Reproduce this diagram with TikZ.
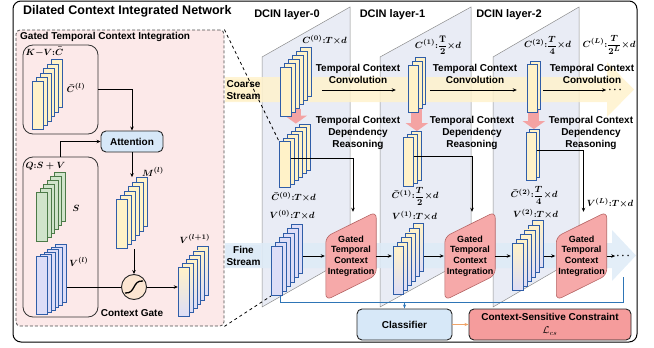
\documentclass[tikz,border=0pt]{standalone}
\usepackage{amsmath}
\usepackage{fontspec}
\setsansfont{Liberation Sans}
\usetikzlibrary{arrows.meta, positioning, calc, fit, backgrounds}

\definecolor{panelfill}{HTML}{E9ECF5}
\definecolor{coarsefill}{HTML}{FFF2CC}
\definecolor{finefill}{HTML}{DEEBF7}
\definecolor{cardyel}{HTML}{FFF2C8}
\definecolor{cardlav}{HTML}{DDDDF7}
\definecolor{cardgrn}{HTML}{D0E4CB}
\definecolor{cardedge}{HTML}{2F5DA8}
\definecolor{grnedge}{HTML}{4C7A48}
\definecolor{gtcifill}{HTML}{F6A9A9}
\definecolor{gtciedge}{HTML}{B56565}
\definecolor{detailfill}{HTML}{FCE9E9}
\definecolor{boxblue}{HTML}{D7E8F8}
\definecolor{gatefill}{HTML}{FCE6D2}
\definecolor{cscfill}{HTML}{F59C9C}
\definecolor{busblue}{HTML}{2E75B6}
\definecolor{pinkarrow}{HTML}{F4A3A3}
\definecolor{orangearr}{HTML}{F0A468}

\tikzset{
  card/.style={draw=cardedge, line width=0.7pt, inner sep=0pt},
  yel/.style={fill=cardyel},
  lav/.style={fill=cardlav},
  grn/.style={fill=cardgrn, draw=grnedge},
  mix/.style={top color=cardyel, bottom color=cardlav},
  lbl/.style={font=\sffamily\bfseries\fontsize{10}{12}\selectfont, align=center, inner sep=1pt},
  mlbl/.style={font=\fontsize{9.5}{11}\selectfont, inner sep=0.5pt},
  gtci/.style={lbl, font=\sffamily\bfseries\fontsize{9}{10.7}\selectfont, minimum width=50pt, minimum height=88pt},
  gtcishape/.style={fill=gtcifill, draw=gtciedge, line width=0.6pt, rounded corners=6pt},
  grp/.style={draw=black!80, line width=0.8pt, rounded corners=10pt, inner sep=0pt},
  blk/.style={lbl, draw=black!85, line width=0.9pt, rounded corners=5pt},
  panel/.style={fill=panelfill, draw=black!45, line width=0.5pt},
  arr/.style={-{Stealth[length=4pt, width=3.5pt]}, line width=0.7pt},
}

% name, front card corner, count, dx, dy, width, height, colour
\newcommand{\cardstack}[8]{%
  \foreach \k in {#3,...,1}
    \node[card, #8, minimum width=#6pt, minimum height=#7pt, anchor=south west]
      (#1-\k) at ($(#2)+({(\k-1)*#4},{-(\k-1)*#5})$) {};
  \node[fit=(#1-1)(#1-#3), inner sep=0pt] (#1) {};
}
% compact size label
\newcommand{\dimlbl}[2]{$\boldsymbol{#1{:}#2{\times}d}$}

\begin{document}
\begin{tikzpicture}[x=1pt, y=-1pt]
    \useasboundingbox (0,0) rectangle (654,348);

    \draw[line width=1pt, rounded corners=8pt] (13,1) rectangle (637,342);
    \node[lbl, font=\sffamily\bfseries\fontsize{12.5}{14}\selectfont, anchor=west] (title) at (22,11)
        {Dilated Context Integrated Network};

    % zoomed gated integration
    \node[draw=black!70, dash pattern=on 3pt off 2pt, line width=0.8pt, fill=detailfill,
          rounded corners=4pt, minimum width=208pt, minimum height=296pt] (detail) at (120,178) {};
    \node[lbl, anchor=west] (detailtitle) at (19,37) {Gated Temporal Context Integration};
    \node[grp, minimum width=75pt, minimum height=89pt] (kvbox) at (60.5,89.5) {};
    \node[grp, minimum width=75pt, minimum height=160pt] (qbox) at (60.5,237) {};
    \node[mlbl, anchor=west] (kvlbl) at (25,52) {$\boldsymbol{K{-}V{:}\bar{C}}$};
    \node[mlbl, anchor=west] (qlbl) at (25,166) {$\boldsymbol{Q{:}S+V}$};

    \cardstack{kv}{32,130}{6}{3.8}{4.4}{11}{48}{yel}
    \cardstack{s}{36,242}{6}{3.6}{4}{11}{49}{grn}
    \cardstack{vl}{36,315}{6}{3.8}{2.4}{11}{58}{lav}
    \cardstack{m}{116,249}{6}{4}{4.4}{11}{49}{yel}
    \cardstack{vn}{178,317}{6}{3.8}{4.2}{11}{49}{mix}

    \node[mlbl] (lkv) at (76,88) {$\boldsymbol{\bar{C}^{(l)}}$};
    \node[mlbl] (ls) at (76,208) {$\boldsymbol{S}$};
    \node[mlbl] (lvl) at (79,262) {$\boldsymbol{V^{(l)}}$};
    \node[mlbl] (lm) at (153,172) {$\boldsymbol{M^{(l)}}$};
    \node[mlbl] (lvn) at (195,239) {$\boldsymbol{V^{(l+1)}}$};

    \node[blk, fill=boxblue, minimum width=62pt, minimum height=21pt] (att) at (132,141.5) {Attention};
    \node[circle, draw=black!85, line width=0.9pt, fill=gatefill, minimum size=25pt, inner sep=0pt] (gate) at (134,287) {};
    \draw[line width=1.3pt] ([shift={(-9pt,-6pt)}]gate.center)
        .. controls ([shift={(2pt,-7pt)}]gate.center) and ([shift={(-2pt,7pt)}]gate.center)
        .. ([shift={(9pt,6pt)}]gate.center);
    \node[lbl] (gatelbl) at (132,313) {Context Gate};

    \draw[arr] (kvbox) -| (att);
    \draw[arr] (qbox) |- (att);
    \draw[arr] (att) -- (att |- m.north);
    \draw[arr] (m.south -| gate) -- (gate);
    \draw[line width=0.7pt] (vl.east |- gate) -- (gate);
    \draw[arr] (gate) -- (vn.west |- gate);

    % the layers
    \cardstack{c0}{280,117}{6}{4}{4}{11}{49}{yel}
    \cardstack{c1}{408,113}{3}{3.5}{4}{10}{47}{yel}
    \cardstack{c2}{527,113}{2}{3}{3}{10}{48}{yel}
    \cardstack{cb0}{279,188}{6}{4}{3.5}{11}{46}{yel}
    \cardstack{cb1}{403,187}{3}{4}{3}{10}{49}{yel}
    \cardstack{cb2}{526,181}{2}{3}{3}{10}{48}{yel}
    \cardstack{v0}{271,296}{6}{4}{4.5}{11}{49}{lav}
    \cardstack{v1}{393,295}{6}{4}{4.6}{10}{48}{mix}
    \cardstack{v2}{512,291}{6}{4}{4.6}{11}{47}{mix}

    \foreach \i/\x in {0/351,1/470,2/581.5}
      \node[gtci] (g\i) at (\x,256) {Gated\\Temporal\\Context\\Integration};

    \foreach \i/\x in {0/287,1/392.5,2/509}
      \node[lbl, font=\sffamily\bfseries\fontsize{11}{13}\selectfont] (layer\i) at (\x,15) {DCIN layer-\i};
    \foreach \n/\x in {0/358,1/475,2/592}
      \node[lbl] (conv\n) at (\x,74) {Temporal Context\\Convolution};
    \foreach \n/\x in {0/358,1/472,2/591}
      \node[lbl] (tcdr\n) at (\x,133) {Temporal Context\\Dependency\\Reasoning};

    \node[mlbl] (lc0) at (324.5,40) {\dimlbl{C^{(0)}}{T}};
    \node[mlbl] (lc1) at (438,45) {\dimlbl{C^{(1)}}{\dfrac{\mathrm{T}}{2}}};
    \node[mlbl] (lc2) at (547.5,45) {\dimlbl{C^{(2)}}{\dfrac{T}{4}}};
    \node[mlbl] (lcL) at (609,45) {\dimlbl{C^{(L)}}{\dfrac{T}{2^L}}};
    \node[mlbl] (lcb0) at (293.5,197) {\dimlbl{\bar{C}^{(0)}}{T}};
    \node[mlbl] (lcb1) at (415,196) {\dimlbl{\bar{C}^{(1)}}{\dfrac{T}{2}}};
    \node[mlbl] (lcb2) at (534,195) {\dimlbl{\bar{C}^{(2)}}{\dfrac{T}{4}}};
    \node[mlbl] (lv0) at (292,215) {\dimlbl{V^{(0)}}{T}};
    \node[mlbl] (lv1) at (414.5,216) {\dimlbl{V^{(1)}}{T}};
    \node[mlbl] (lv2) at (535.5,214) {\dimlbl{V^{(2)}}{T}};
    \node[mlbl] (lvL) at (610,203) {\dimlbl{V^{(L)}}{T}};

    \node[lbl, fill=coarsefill] (coarselbl) at (243.5,90) {Coarse\\Stream};
    \node[lbl, fill=finefill] (finelbl) at (243.5,256) {Fine\\Stream};
    \node[inner sep=0pt] (cdots) at (616,90) {$\boldsymbol{\cdots}$};
    \node[inner sep=0pt] (fdots) at (624,256) {$\boldsymbol{\cdots}$};

    \coordinate (coarse) at (0,90);
    \coordinate (fine) at (0,256);
    \foreach \a/\b/\s/\t in {c0/c1/10pt/12pt, c1/c2/4pt/10pt, c2/cdots/2pt/2pt}
      \draw[arr, shorten <=\s, shorten >=\t] (\a.east |- coarse) -- (\b.west |- coarse);
    \foreach \a/\b in {v0/g0, g0/v1, v1/g1, g1/v2, v2/g2, g2/fdots}
      \draw[arr, shorten >=1pt] (\a.east |- fine) -- (\b.west |- fine);
    \foreach \i in {0,1,2}
      \draw[arr] ([yshift=6pt]cb\i-1.east) -| ([xshift=2pt]g\i.north);

    \node[blk, fill=boxblue, minimum width=95pt, minimum height=31pt] (cls) at (404.5,324.5) {Classifier};
    \node[blk, fill=cscfill, minimum width=162pt, minimum height=31pt] (csc) at (550,324.5)
        {Context-Sensitive Constraint\\[1pt]$\mathcal{L}_{cs}$};
    \draw[orangearr, line width=0.8pt, -{Stealth[length=4pt]}] (cls) -- (csc);

    \coordinate (bus) at (0,302);
    \coordinate (busend) at (623,277);
    \draw[busblue, line width=0.9pt] ([xshift=-6pt]v0.south) -- ([xshift=-6pt]v0.south |- bus) -| (busend);
    \draw[busblue, line width=0.9pt, -{Stealth[length=4pt]}] (cls.north |- bus) -- (cls);

    \draw[dashed, line width=0.8pt] (detail.north east) -- (cb0-1.north west);
    \draw[dashed, line width=0.8pt] (detail.south east) -- (v0-1.south west);

    \begin{scope}[on background layer]
      \foreach \l/\r in {262/350, 380/471, 493/579}
        \draw[panel] (\l,57) -- (\r,7) -- (\r,257) -- (\l,307) -- cycle;
      \fill[coarsefill, opacity=0.85] (225,77) -- (607,77) -- (607,62) -- (634,89.5)
          -- (607,117) -- (607,102) -- (225,102) -- cycle;
      \fill[finefill, opacity=0.85] (225,243) -- (612,243) -- (612,230) -- (636,255.5)
          -- (612,281) -- (612,268) -- (225,268) -- cycle;
      \foreach \i in {0,1,2}
        \draw[pinkarrow, line width=11pt, -{Triangle[length=8pt, width=22pt]}]
          ([yshift=8pt]c\i.south) -- (c\i.south |- cb\i.north);
      \foreach \i in {0,1,2}
        \draw[gtcishape] ([yshift=-25pt]g\i.north west) -- (g\i.north east)
          -- ([yshift=25pt]g\i.south east) -- (g\i.south west) -- cycle;
    \end{scope}

\end{tikzpicture}
\end{document}
